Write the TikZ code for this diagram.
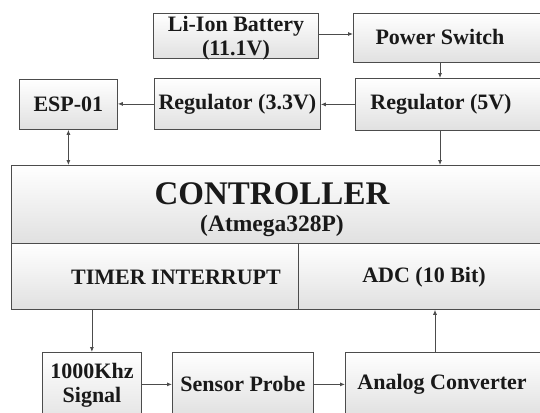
\documentclass[tikz,border=0pt]{standalone}
\usepackage{fontspec}
\setmainfont{Liberation Serif}
\usetikzlibrary{arrows.meta}
\begin{document}
\begin{tikzpicture}[x=1pt,y=-1pt,
  blk/.style={rectangle,draw=gray!60!black,line width=0.8pt,top color=white,bottom color=gray!24,
    inner sep=0pt,anchor=north west,align=center,font=\fontsize{22}{25}\selectfont\bfseries,text=black!90},
  lbl/.style={inner sep=0pt,align=center,font=\fontsize{22}{24}\selectfont\bfseries,text=black!90},
  conn/.style={draw=gray!60!black,line width=0.8pt,-{Latex[length=5pt,width=4pt]}},
  conn2/.style={draw=gray!60!black,line width=0.8pt,{Latex[length=5pt,width=4pt]}-{Latex[length=5pt,width=4pt]}}]
\useasboundingbox (0,0) rectangle (540,412);
\fill[white] (0,0) rectangle (540,412);
\clip (0,0) rectangle (540,412);
% top row
\node[blk,minimum width=165pt,minimum height=45pt] (bat) at (153,13) {};
\node[lbl] (battext) at (236,38) {Li-Ion Battery\\(11.1V)};
\node[blk,minimum width=220pt,minimum height=49pt] (ps) at (353,13) {};
\node[lbl] (pstext) at (440,37) {Power Switch};
% second row
\node[blk,minimum width=98pt,minimum height=50pt] (esp) at (19,79) {ESP-01};
\node[blk,minimum width=166pt,minimum height=51pt] (r33) at (154,78) {Regulator (3.3V)};
\node[blk,minimum width=220pt,minimum height=52pt] (r5) at (355,78) {};
\node[lbl] (r5text) at (441,104) {Regulator (5V)};
% controller
\node[blk,minimum width=570pt,minimum height=78pt] (ctop) at (11,165) {};
\node[lbl,font=\fontsize{33}{36}\selectfont\bfseries] (ctitle) at (272,194) {CONTROLLER};
\node[lbl,font=\fontsize{23.5}{25}\selectfont\bfseries] (csub) at (272,226) {(Atmega328P)};
\node[blk,minimum width=287pt,minimum height=66pt] (tim) at (11,243) {};
\node[lbl] (timtext) at (176,277) {TIMER INTERRUPT};
\node[blk,minimum width=280pt,minimum height=66pt] (adc) at (298,243) {};
\node[lbl] (adctext) at (424,277) {ADC (10 Bit)};
% bottom row
\node[blk,minimum width=99pt,minimum height=76pt] (sig) at (42,352) {};
\node[lbl] (sigtext) at (92,385) {1000Khz\\Signal};
\node[blk,minimum width=141pt,minimum height=64pt] (sp) at (172,352) {Sensor Probe};
\node[blk,minimum width=240pt,minimum height=64pt] (ac) at (345,352) {};
\node[lbl] (actext) at (442,384) {Analog Converter};
\coordinate (acup) at (435,352);
% connectors
\draw[conn] (bat.east |- 0,34) -- (ps.west |- 0,34);
\draw[conn] (pstext |- ps.south) -- (pstext |- r5.north);
\draw[conn] (r5.west) -- (r5.west -| r33.east);
\draw[conn] (r33.west) -- (r33.west -| esp.east);
\draw[conn2] (esp.south) -- (esp.south |- ctop.north);
\draw[conn] (pstext |- r5.south) -- (pstext |- ctop.north);
\draw[conn] (sig.north |- tim.south) -- (sig.north);
\draw[conn] (sp.west -| sig.east) -- (sp.west);
\draw[conn] (sp.east) -- (sp.east -| ac.west);
\draw[conn] (acup) -- (acup |- adc.south);
\end{tikzpicture}
\end{document}
